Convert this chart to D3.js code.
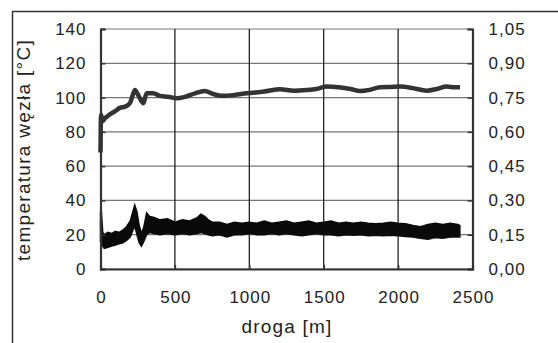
<!DOCTYPE html>
<html>
<head>
<meta charset="utf-8">
<script src="https://cdn.jsdelivr.net/npm/d3@7"></script>
<style>
  body { margin: 0; background: #fff; }
  text { font-family: "Liberation Sans", Arial, sans-serif; fill: #222; }
</style>
</head>
<body>
<div id="chart"></div>
<script>
// temperatura węzła [°C] vs droga [m]
const tempX = [0, 2, 5, 10, 30, 60, 97, 130, 165, 198, 215, 232, 250, 265, 288, 310, 353, 400, 453, 512,
    570, 635, 700, 760, 824, 900, 982, 1100, 1206, 1300, 1386, 1450, 1520, 1600, 1680, 1744, 1810, 1878,
    1950, 2013, 2100, 2192, 2260, 2327, 2380, 2416];
const tempY = [68, 85, 90, 86, 88, 90, 92, 94, 94.7, 96.8, 101, 104.4, 102, 99.6, 96.7, 102.5, 102.5, 101, 100.5, 99.6,
    100.5, 102.5, 103.8, 102, 101, 101.5, 102.5, 103.5, 104.8, 104, 104.4, 105, 106.4, 106, 105, 103.8, 104.5, 106,
    106.2, 106.4, 105.5, 104, 105, 106.4, 106, 106];

// współczynnik tarcia: noisy band, upper / lower envelope
const fricX = [0, 5, 15, 25, 50, 75, 100, 125, 150, 175, 200, 215, 230, 245, 260, 275, 290, 310, 330, 360,
    400, 450, 500, 550, 600, 650, 675, 700, 725, 750, 800, 850, 900, 950, 1000, 1050, 1100, 1150, 1200, 1250,
    1300, 1350, 1400, 1450, 1500, 1550, 1600, 1650, 1700, 1750, 1800, 1850, 1900, 1950, 2000, 2050, 2100, 2150,
    2200, 2250, 2300, 2350, 2400, 2415];
const fricHi = [0.25, 0.258, 0.16, 0.15, 0.16, 0.155, 0.165, 0.16, 0.17, 0.185, 0.21, 0.245, 0.28, 0.25, 0.19, 0.155, 0.18, 0.245, 0.23, 0.225,
    0.215, 0.22, 0.205, 0.215, 0.21, 0.225, 0.24, 0.23, 0.215, 0.205, 0.205, 0.195, 0.205, 0.2, 0.205, 0.2, 0.21, 0.2, 0.205, 0.21,
    0.2, 0.205, 0.21, 0.2, 0.205, 0.21, 0.2, 0.205, 0.2, 0.205, 0.2, 0.198, 0.2, 0.205, 0.2, 0.198, 0.19, 0.185,
    0.195, 0.2, 0.195, 0.2, 0.195, 0.19];
const fricLo = [0.12, 0.11, 0.10, 0.09, 0.095, 0.10, 0.105, 0.11, 0.115, 0.125, 0.14, 0.165, 0.19, 0.15, 0.115, 0.10, 0.12, 0.15, 0.16, 0.155,
    0.15, 0.155, 0.15, 0.155, 0.15, 0.155, 0.16, 0.155, 0.15, 0.145, 0.15, 0.14, 0.15, 0.15, 0.155, 0.15, 0.15, 0.155, 0.15, 0.155,
    0.15, 0.145, 0.15, 0.155, 0.15, 0.15, 0.145, 0.15, 0.148, 0.15, 0.145, 0.148, 0.145, 0.148, 0.145, 0.142, 0.14, 0.135,
    0.13, 0.138, 0.135, 0.14, 0.14, 0.14];

const leftTicks = [0, 20, 40, 60, 80, 100, 120, 140];
const rightTicks = [0, 0.15, 0.30, 0.45, 0.60, 0.75, 0.90, 1.05];
const xTicks = [0, 500, 1000, 1500, 2000, 2500];

const W = 558, H = 343;
const plot = { l: 100.5, r: 472.5, t: 29, b: 269 };

const svg = d3.select('#chart').append('svg')
    .attr('width', W)
    .attr('height', H);

// outer frame
svg.append('rect')
    .attr('x', 12.5).attr('y', 11.5)
    .attr('width', W).attr('height', H)
    .attr('fill', 'none').attr('stroke', '#333').attr('stroke-width', 1.5);

const x = d3.scaleLinear().domain([0, 2500]).range([plot.l, plot.r]);
const yL = d3.scaleLinear().domain([0, 140]).range([plot.b, plot.t]);
const yR = d3.scaleLinear().domain([0, 1.05]).range([plot.b, plot.t]);

// horizontal grid
svg.append('g').selectAll('line')
    .data(leftTicks)
    .enter().append('line')
        .attr('x1', plot.l).attr('x2', plot.r)
        .attr('y1', d => yL(d)).attr('y2', d => yL(d))
        .attr('stroke', '#777').attr('stroke-width', 1.2);

// vertical grid
svg.append('g').selectAll('line')
    .data(xTicks.slice(1, -1))
    .enter().append('line')
        .attr('x1', d => x(d)).attr('x2', d => x(d))
        .attr('y1', plot.t).attr('y2', plot.b)
        .attr('stroke', '#111').attr('stroke-width', 1.2);

// friction band
const band = d3.area()
    .x((d, i) => x(fricX[i]))
    .y0((d, i) => yR(fricLo[i]))
    .y1((d, i) => yR(fricHi[i]));
svg.append('path')
    .datum(fricX)
    .attr('fill', '#0a0a0a')
    .attr('stroke', '#0a0a0a')
    .attr('stroke-width', 1.5)
    .attr('stroke-linejoin', 'miter')
    .attr('d', band);

// temperature line
const line = d3.line()
    .x((d, i) => x(tempX[i]))
    .y((d, i) => yL(tempY[i]))
    .curve(d3.curveMonotoneX);
svg.append('path')
    .datum(tempX)
    .attr('fill', 'none')
    .attr('stroke', '#333')
    .attr('stroke-width', 4.5)
    .attr('stroke-linejoin', 'round')
    .attr('d', line);

// axes
const gL = svg.append('g')
    .attr('transform', `translate(${plot.l}, 0)`)
    .call(d3.axisLeft(yL).tickValues(leftTicks).tickSize(-5).tickPadding(15));
const gR = svg.append('g')
    .attr('transform', `translate(${plot.r}, 0)`)
    .call(d3.axisRight(yR).tickValues(rightTicks).tickSize(-5).tickPadding(16)
        .tickFormat(d => d3.format('.2f')(d).replace('.', ',')));
const gB = svg.append('g')
    .attr('transform', `translate(0, ${plot.b})`)
    .call(d3.axisBottom(x).tickValues(xTicks).tickSize(-4).tickPadding(22).tickFormat(d3.format('d')));

[gL, gR, gB].forEach(g => {
    g.select('.domain').attr('stroke', '#333').attr('stroke-width', 2.2);
    g.selectAll('.tick line').attr('stroke', '#333').attr('stroke-width', 1.5);
    g.selectAll('.tick text')
        .attr('font-family', '"Liberation Sans", Arial, sans-serif')
        .attr('font-size', 17)
        .attr('letter-spacing', 1)
        .attr('fill', '#222');
});
gL.selectAll('.tick text').attr('dx', 1);
gB.selectAll('.tick text').attr('dy', '0.71em').attr('dx', 0.5);

// axis titles
svg.append('text')
    .attr('transform', 'translate(287, 333)')
    .attr('text-anchor', 'middle')
    .attr('font-size', 19)
    .attr('letter-spacing', 1.2)
    .text('droga [m]');

svg.append('text')
    .attr('transform', 'translate(30, 150) rotate(-90)')
    .attr('text-anchor', 'middle')
    .attr('font-size', 19)
    .attr('letter-spacing', 1.3)
    .text('temperatura węzła [°C]');

svg.append('clipPath').attr('id', 'rclip')
    .append('rect').attr('x', 530).attr('y', 106).attr('width', 28).attr('height', 220);
svg.append('text')
    .attr('clip-path', 'url(#rclip)')
    .attr('transform', 'translate(552, 265) rotate(-90)')
    .attr('font-size', 10)
    .attr('fill', '#333')
    .attr('letter-spacing', 0.6)
    .text('współczynnik tarcia');
</script>
</body>
</html>
